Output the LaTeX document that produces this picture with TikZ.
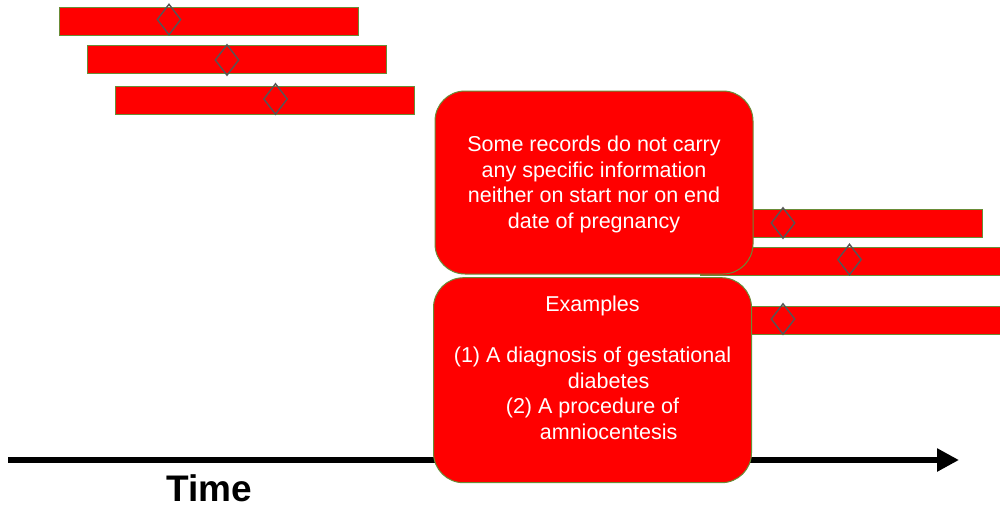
\documentclass[tikz,border=0pt]{standalone}
\usepackage{fontspec}
\setmainfont{Liberation Sans}
\usetikzlibrary{arrows.meta,shapes.geometric}
\definecolor{barred}{RGB}{255,0,0}
\definecolor{edgegreen}{RGB}{105,140,55}
\definecolor{diagray}{RGB}{85,85,85}
\begin{document}
\begin{tikzpicture}[x=1pt,y=-1pt,
  bar/.style={draw=edgegreen,fill=barred,line width=1pt,inner sep=0pt,minimum height=28pt,anchor=north west},
  dmark/.style={draw=diagray,line width=1.4pt,diamond,aspect=0.8,inner sep=0pt,minimum width=24pt,minimum height=31pt},
  infobox/.style={draw=edgegreen,fill=barred,line width=1pt,rounded corners=30pt,inner sep=0pt,
     text=white,align=center},
  axis/.style={line width=6pt,-{Triangle[length=22pt,width=22pt]}}
]
\useasboundingbox (0,0) rectangle (1000,507);
% top-left bars
\node[bar,minimum width=299pt] (b1) at (58.5,6.7) {};
\node[dmark] (d1) at (169,19.5) {};
\node[bar,minimum width=299pt] (b2) at (86.5,45.3) {};
\node[dmark] (d2) at (227,60) {};
\node[bar,minimum width=298.5pt] (b3) at (115,86) {};
\node[dmark] (d3) at (275.5,99) {};
% right bars (partly behind the boxes)
\node[bar,minimum width=242pt] (b4) at (740,208.7) {};
\node[dmark] (d4) at (783,223) {};
\node[bar,minimum width=320pt] (b5) at (700,246.7) {};
\node[dmark] (d5) at (849.5,259.5) {};
\node[bar,minimum width=320pt] (b6) at (700,306) {};
\node[dmark] (d6) at (783,319) {};
% time axis
\coordinate (t0) at (8,460);
\coordinate (t1) at (959,460);
\draw[axis] (t0) -- (t1);
\node[anchor=base,inner sep=0pt,font=\fontsize{37}{40}\selectfont\bfseries] (time) at (209,501) {Time};
% boxes
\node[infobox,minimum width=318pt,minimum height=183pt,font=\fontsize{21.5}{25.6}\selectfont] (box1) at (594,182.5)
  {\rule{0pt}{19.5pt}Some records do not carry\\any specific information\\neither on start nor on end\\date of pregnancy};
\node[infobox,minimum width=318pt,minimum height=205pt,font=\fontsize{21.5}{25.5}\selectfont] (box2) at (592.5,380.2)
  {Examples\\ \mbox{}\\(1) A diagnosis of gestational\\\hphantom{(1) }diabetes\\(2) A procedure of\\\hphantom{(1) }amniocentesis\\ \mbox{}};
\end{tikzpicture}
\end{document}
